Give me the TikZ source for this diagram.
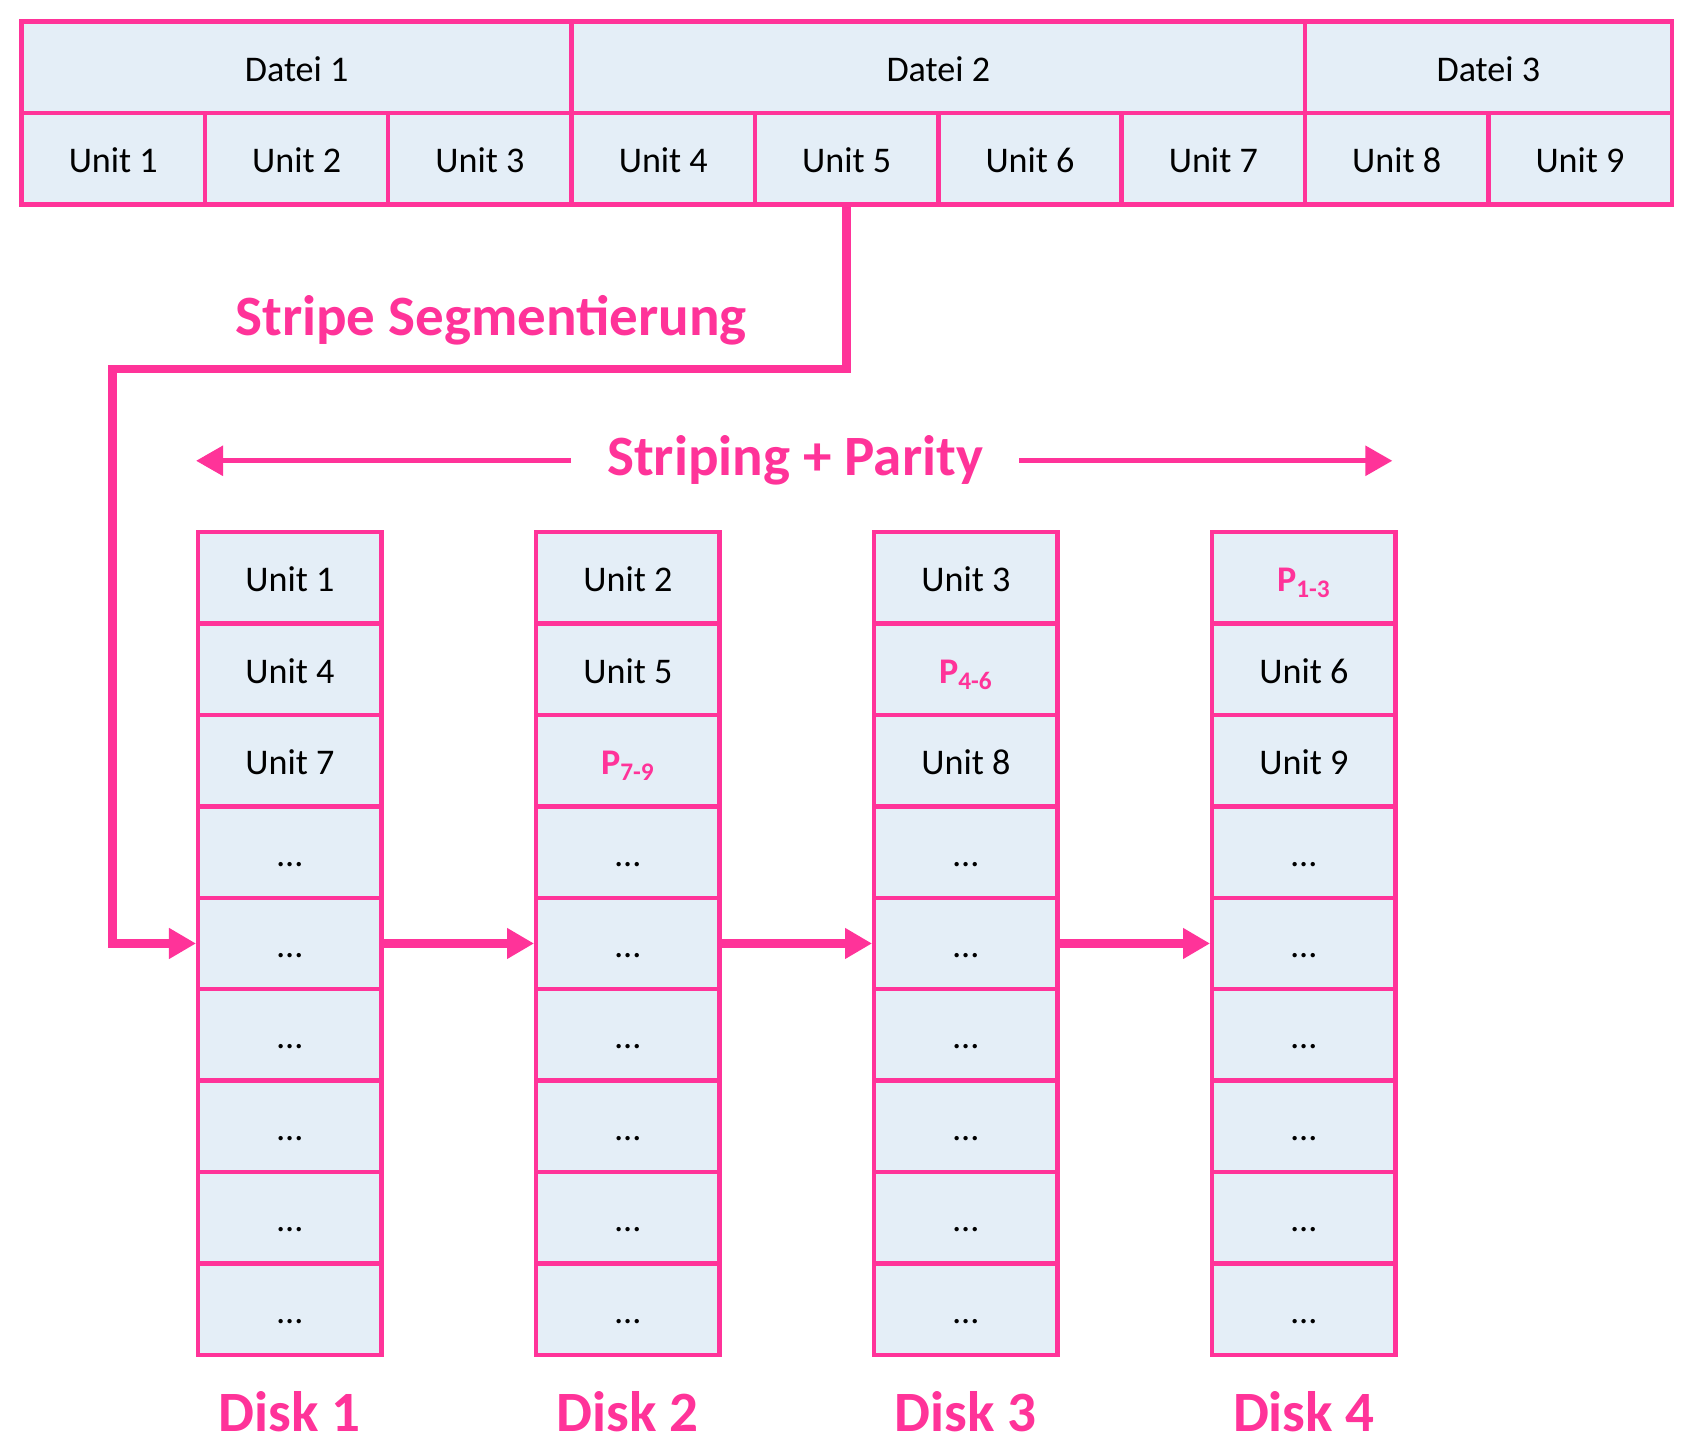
\documentclass[tikz,border=0pt]{standalone}
\usepackage{fontspec}
\setmainfont{Carlito}
\usetikzlibrary{arrows.meta,positioning}
\definecolor{raid}{RGB}{255,51,153}
\definecolor{cellfill}{RGB}{228,238,247}
\newcommand{\parity}[1]{\textcolor{raid}{\bfseries P\textsubscript{#1}}}

\begin{document}
\begin{tikzpicture}[
  every node/.style={font=\fontsize{19}{23}\selectfont},
  cell/.style={draw=raid, fill=cellfill, line width=2.3pt, inner sep=0pt,
    text height=0.6cm, text depth=0.08cm,
    minimum width=3.39cm, minimum height=1.69cm},
  title/.style={font=\fontsize{30}{36}\selectfont\bfseries, text=raid},
  link/.style={-{Triangle[length=0.5cm,width=0.54cm]}, line width=4.5pt, raid}
]
\useasboundingbox (0,0) rectangle (31.36,-26.84);

% Dateien und Units
\node[cell, minimum width=10.17cm] (datei1) at (5.485,-1.245) {Datei 1};
\node[cell, minimum width=13.56cm] (datei2) at (17.35,-1.245) {Datei 2};
\node[cell, minimum width=6.78cm] (datei3) at (27.52,-1.245) {Datei 3};
\foreach \i in {1,...,9}
  \node[cell] (u\i) at ({0.4+(\i-0.5)*3.39},-2.935) {Unit \i};

% Disks
\foreach \d/\x/\a/\b/\c in {1/5.36/Unit 1/Unit 4/Unit 7,
    2/11.61/Unit 2/Unit 5/\parity{7-9},
    3/17.86/Unit 3/\parity{4-6}/Unit 8,
    4/24.11/\parity{1-3}/Unit 6/Unit 9} {
  \node[cell] (d\d-1) at (\x,-10.685) {\a};
  \node[cell] (d\d-2) at (\x,-12.375) {\b};
  \node[cell] (d\d-3) at (\x,-14.065) {\c};
  \foreach \r in {4,...,9}
    \node[cell] (d\d-\r) at (\x,{-9.84-(\r-0.5)*1.69}) {…};
  \node[title] (disk\d) at (\x,-26.1) {Disk \d};
}

% Stripe Segmentierung
\node[title] (segment) at (9.08,-5.92) {Stripe Segmentierung};
\coordinate (bend) at (2.08,-6.82);
\draw[link] (u5.south) |- (bend) |- (d1-5.west);
\foreach \a/\b in {1/2,2/3,3/4}
  \draw[link] (d\a-5.east) -- (d\b-5.west);

% Striping + Parity
\node[title, inner xsep=0.66cm] (striping) at (14.7,-8.52) {Striping + Parity};
\draw[link, line width=2.8pt] (striping.west) -- (striping.west -| d1-1.west);
\draw[link, line width=2.8pt] (striping.east) -- ([xshift=-0.1cm]striping.east -| d4-1.east);

\end{tikzpicture}
\end{document}
